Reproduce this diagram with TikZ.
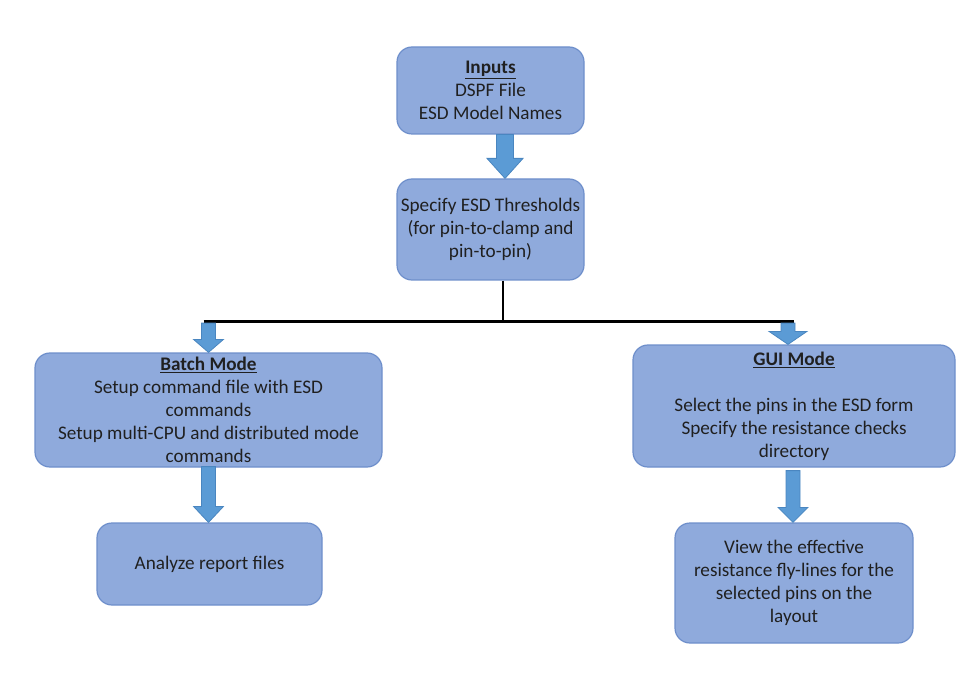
\documentclass[tikz,border=0pt]{standalone}
\usepackage{fontspec}
\setmainfont{Carlito}
\usepackage{xcolor}
\usetikzlibrary{calc}
\definecolor{boxfill}{HTML}{8FAADC}
\definecolor{boxedge}{HTML}{6E8FCB}
\definecolor{arrowfill}{HTML}{5B9BD5}
\definecolor{arrowedge}{HTML}{4A86C0}
\definecolor{textgrey}{HTML}{202020}
\tikzset{
  flowbox/.style={draw=boxedge,fill=boxfill,line width=1.2pt,rounded corners=15pt,
    align=center,inner sep=0pt,text=textgrey,font=\fontsize{19.2}{23}\selectfont},
  branchline/.style={line width=2.6pt,black}
}
% block arrow: from, to, half shaft, half head, head length
\newcommand\blockarrow[5]{%
  \filldraw[fill=arrowfill,draw=arrowedge,line width=0.8pt] let \p1=(#1), \p2=(#2) in
    (\x1-#3,\y1) -- (\x1+#3,\y1) -- (\x1+#3,\y2+#5) -- (\x1+#4,\y2+#5) --
    (\x1,\y2) -- (\x1-#4,\y2+#5) -- (\x1-#3,\y2+#5) -- cycle;}

\begin{document}
\begin{tikzpicture}[x=1pt,y=-1pt]
\useasboundingbox (0,0) rectangle (977,676);
\node[flowbox,minimum width=187pt,minimum height=87pt] (inputs) at (490.5,90.5)
  {\underline{\textbf{Inputs}}\\DSPF File\\ESD Model Names};
\node[flowbox,minimum width=187pt,minimum height=101pt] (thresh) at (490.5,229.5)
  {Specify ESD Thresholds\\(for pin-to-clamp and\\pin-to-pin)};
\node[flowbox,minimum width=347pt,minimum height=114pt] (batch) at (208.5,410)
  {\underline{\textbf{Batch Mode}}\\Setup command file with ESD\\commands\\Setup multi-CPU and distributed mode\\commands};
\node[flowbox,minimum width=225pt,minimum height=82pt] (analyze) at (209.5,564)
  {Analyze report files};
\node[flowbox,minimum width=322pt,minimum height=122pt] (gui) at (794,406)
  {\underline{\textbf{GUI Mode}}\\[23pt]Select the pins in the ESD form\\Specify the resistance checks\\directory};
\node[flowbox,minimum width=238pt,minimum height=120pt] (view) at (794,583)
  {View the effective\\resistance fly-lines for the\\selected pins on the\\layout};

% branch lines
\coordinate (split) at ($(thresh.south)+(12.5,41)$);
\coordinate (lefttop) at (batch.north |- split);
\coordinate (righttop) at (gui.north |- split);
\draw[branchline] ($(thresh.south)+(12.5,0)$) -- (split);
\draw[branchline] ($(lefttop)+(-5,0)$) -- (righttop);

% arrows
\blockarrow{$(inputs.south)+(14.5,0)$}{$(thresh.north)+(14.5,0)$}{8.5pt}{18pt}{20pt}
\blockarrow{$(lefttop)+(0,1.5)$}{batch.north}{7pt}{15pt}{13pt}
\blockarrow{$(righttop)+(-6,1.5)$}{$(gui.north)+(-6,0)$}{7pt}{19pt}{13pt}
\blockarrow{$(batch.south)+(0,-1)$}{analyze.north}{7pt}{15pt}{16pt}
\blockarrow{$(gui.south)+(-1,3)$}{$(view.north)+(-1,0)$}{7pt}{15pt}{15pt}
\end{tikzpicture}
\end{document}
